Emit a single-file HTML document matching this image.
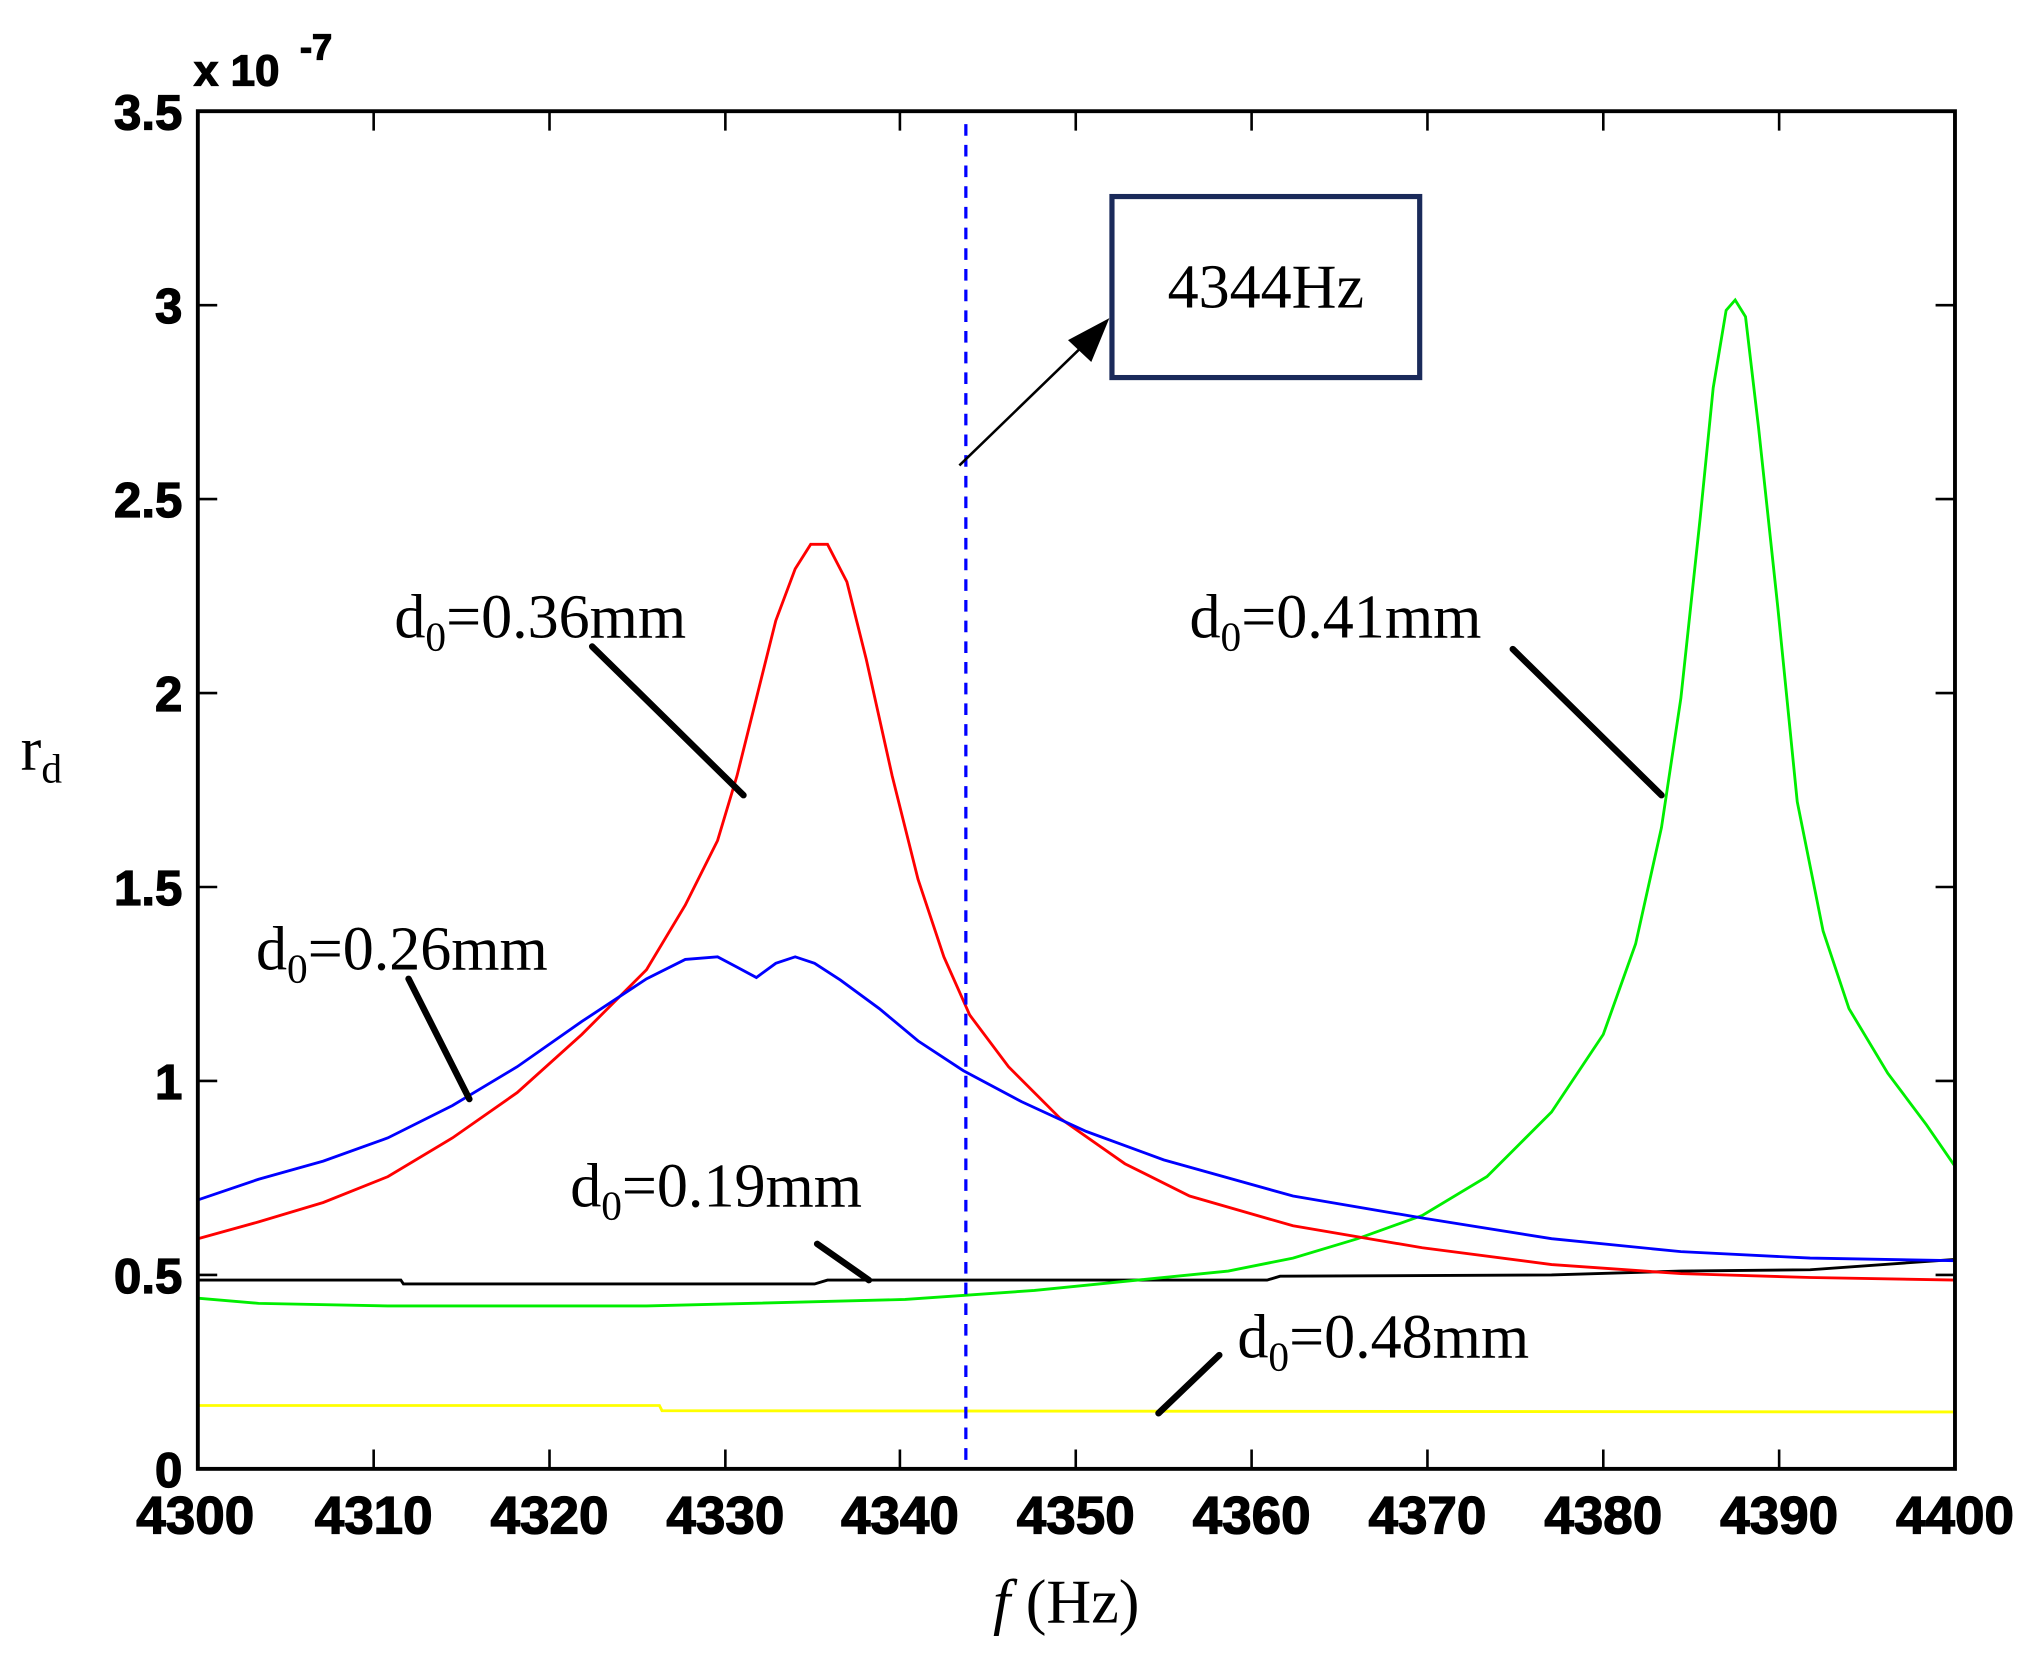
<!DOCTYPE html>
<html><head><meta charset="utf-8"><style>
html,body{margin:0;padding:0;background:#fff;}
svg{display:block;}
.t{font-family:"Liberation Sans",Arial,sans-serif;font-weight:bold;font-size:38px;fill:#000;stroke:#000;stroke-width:1;}
.s{font-family:"Liberation Serif","Times New Roman",serif;font-size:48px;fill:#000;}
</style></head><body>
<svg width="2027" height="1657" viewBox="0 0 1567.7 1281.5" preserveAspectRatio="none" xmlns="http://www.w3.org/2000/svg">
<rect width="1567.7" height="1281.5" fill="#fff"/>
<g fill="none" stroke-width="2.2">
<polyline stroke="#ffff00" points="153,1087 510,1087 512,1091 1512,1092"/>
<polyline stroke="#000" points="153,990 310,990 312,993 630,993 640,990 980,990 990,987 1200,986 1300,983 1400,982 1512,974"/>
<polyline stroke="#00ee00" points="153,1004 200,1008 300,1010 500,1010 700,1005 800,998 880,990 950,983 1000,973 1050,958 1100,940 1150,910 1200,860 1240,800 1265,730 1285,640 1300,540 1315,400 1325,300 1335,240 1342,232 1350,245 1360,330 1375,470 1390,620 1410,720 1430,780 1460,830 1490,870 1512,902"/>
<polyline stroke="#ff0000" points="153,958 200,945 250,930 300,910 350,880 400,845 450,800 500,750 530,700 555,650 570,600 585,540 600,480 615,440 627,421 640,421 655,450 670,510 690,600 710,680 730,740 750,785 780,825 820,865 870,900 920,925 1000,948 1100,965 1200,978 1300,985 1400,988 1512,990"/>
<polyline stroke="#0000ff" points="153,928 200,912 250,898 300,880 350,855 400,825 450,790 500,757 530,742 555,740 570,748 585,756 600,745 615,740 630,745 650,758 680,780 710,805 745,828 790,852 840,875 900,897 1000,925 1100,942 1200,958 1300,968 1400,973 1512,975"/>
</g>
<line x1="747" y1="96" x2="747" y2="1136" stroke="#0000ff" stroke-width="2.5" stroke-dasharray="9,7"/>
<rect x="153" y="86" width="1359" height="1050" fill="none" stroke="#000" stroke-width="3"/>
<g stroke="#000" stroke-width="2">
<path d="M289,1136v-15M425,1136v-15M561,1136v-15M696,1136v-15M832,1136v-15M968,1136v-15M1104,1136v-15M1240,1136v-15M1376,1136v-15
M289,86v15M425,86v15M561,86v15M696,86v15M832,86v15M968,86v15M1104,86v15M1240,86v15M1376,86v15
M153,986h15M153,836h15M153,686h15M153,536h15M153,386h15M153,236h15
M1512,986h-15M1512,836h-15M1512,686h-15M1512,536h-15M1512,386h-15M1512,236h-15"/>
</g>
<g class="t" text-anchor="end">
<text x="141" y="100">3.5</text><text x="141" y="250">3</text><text x="141" y="400">2.5</text>
<text x="141" y="550">2</text><text x="141" y="700">1.5</text><text x="141" y="850">1</text>
<text x="141" y="1000">0.5</text><text x="141" y="1150">0</text>
</g>
<g class="t" text-anchor="middle" style="font-size:41px">
<text x="151" y="1186">4300</text><text x="289" y="1186">4310</text><text x="425" y="1186">4320</text>
<text x="561" y="1186">4330</text><text x="696" y="1186">4340</text><text x="832" y="1186">4350</text>
<text x="968" y="1186">4360</text><text x="1104" y="1186">4370</text><text x="1240" y="1186">4380</text>
<text x="1376" y="1186">4390</text><text x="1512" y="1186">4400</text>
</g>
<text class="t" x="150" y="66" style="font-size:34px">x 10</text>
<text class="t" x="232" y="46" style="font-size:28px">-7</text>
<text class="s" x="768" y="1255"><tspan font-style="italic">f</tspan> (Hz)</text>
<text class="s" x="16" y="595">r<tspan font-size="32" dy="10">d</tspan></text>
<rect x="860" y="152" width="238" height="140" fill="none" stroke="#1a2a5a" stroke-width="4"/>
<text class="s" x="979" y="238" text-anchor="middle">4344Hz</text>
<line x1="742" y1="360" x2="840" y2="265" stroke="#000" stroke-width="2"/>
<polygon points="858,246 826,263 844,280" fill="#000"/>
<g stroke="#000" stroke-width="5" stroke-linecap="round">
<line x1="458" y1="500" x2="575" y2="615"/>
<line x1="1170" y1="502" x2="1285" y2="615"/>
<line x1="316" y1="757" x2="363" y2="850"/>
<line x1="632" y1="962" x2="672" y2="990"/>
<line x1="943" y1="1048" x2="896" y2="1093"/>
</g>
<g class="s">
<text x="305" y="493">d<tspan font-size="32" dy="10">0</tspan><tspan dy="-10">=0.36mm</tspan></text>
<text x="920" y="493">d<tspan font-size="32" dy="10">0</tspan><tspan dy="-10">=0.41mm</tspan></text>
<text x="198" y="750">d<tspan font-size="32" dy="10">0</tspan><tspan dy="-10">=0.26mm</tspan></text>
<text x="441" y="933">d<tspan font-size="32" dy="10">0</tspan><tspan dy="-10">=0.19mm</tspan></text>
<text x="957" y="1050">d<tspan font-size="32" dy="10">0</tspan><tspan dy="-10">=0.48mm</tspan></text>
</g>
</svg>
</body></html>
